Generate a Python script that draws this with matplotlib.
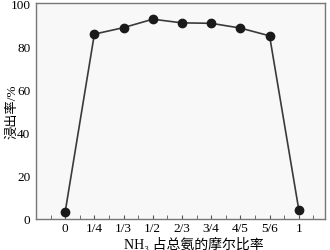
import numpy as np
import matplotlib
matplotlib.use('Agg')
import matplotlib.pyplot as plt

##Data
ratio_labels = ['0', '1/4', '1/3', '1/2', '2/3', '3/4', '4/5', '5/6', '1']
leach_rate = [3.2, 85.6, 88.6, 92.5, 90.8, 90.6, 88.4, 84.8, 4.3]
y_ticks = [0, 20, 40, 60, 80, 100]

plt.rcParams['font.family'] = ['Liberation Serif', 'Noto Sans CJK SC']

fig = plt.figure(figsize=(3.3, 2.51), dpi=100)
ax = fig.add_axes([0.109, 0.124, 0.876, 0.860])
ax.set_facecolor('#f8f8f8')

x = np.arange(len(ratio_labels))
ax.plot(x, leach_rate, '-', color='#3a3a3a', lw=1.2)
ax.plot(x, leach_rate, 'o', color='#1a1a1a', ms=6)

ax.set_xlim(-1.0, 8.9)
ax.set_ylim(0, 100)
ax.set_xticks(x)
ax.set_xticklabels(ratio_labels, fontsize=9.5)
ax.set_xticks(np.arange(-0.5, 9.0, 0.5), minor=True)
ax.tick_params(axis='x', which='both', direction='in', length=3, color='#555555')
ax.tick_params(axis='x', which='major', pad=2)
ax.set_yticks(y_ticks)
ax.set_yticklabels([str(v) for v in y_ticks], fontsize=9.5)
ax.tick_params(axis='y', length=0, pad=4)

for s in ax.spines.values():
    s.set_color('#777777')
    s.set_linewidth(1.0)

ax.set_xlabel('NH\u2083 占总氨的摩尔比率', fontsize=10)
ax.xaxis.set_label_coords(0.547, -0.08)
ax.set_ylabel('浸出率/%', fontsize=9.5)
ax.yaxis.set_label_coords(-0.062, 0.5)

fig.savefig('out.png', dpi=100)
